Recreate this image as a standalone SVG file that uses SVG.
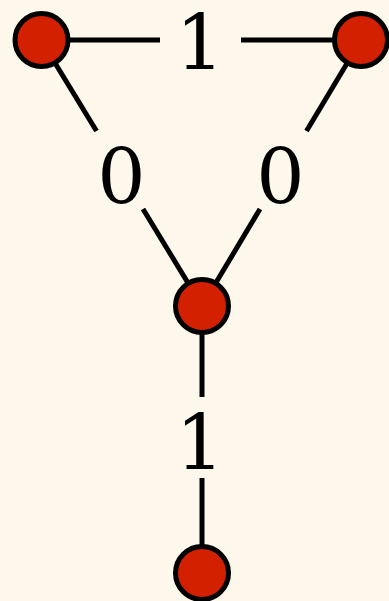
<svg xmlns="http://www.w3.org/2000/svg" width="389" height="601" viewBox="0 0 389 601">
<style>
.edge{stroke:#000;stroke-width:5;fill:none;stroke-linecap:butt}
.node{fill:#d22000;stroke:#000;stroke-width:5}
.lbl{font-family:"DejaVu Serif",serif;font-size:76px;fill:#000;text-anchor:middle}
</style>
<rect width="389" height="601" fill="#fef7eb"/>
<g id="connectors">
<line class="edge" x1="41" y1="40" x2="160" y2="40"/>
<line class="edge" x1="241" y1="40" x2="361" y2="40"/>
<line class="edge" x1="41" y1="40" x2="96.5" y2="131"/>
<line class="edge" x1="143" y1="209" x2="202" y2="306"/>
<line class="edge" x1="361" y1="40" x2="306.5" y2="131"/>
<line class="edge" x1="260" y1="209" x2="202" y2="306"/>
<line class="edge" x1="202" y1="306" x2="202" y2="397"/>
<line class="edge" x1="202" y1="478" x2="202" y2="573"/>
<text class="lbl" x="200" y="69">1</text>
<text class="lbl" x="121.5" y="203">0</text>
<text class="lbl" x="280.5" y="203">0</text>
<text class="lbl" x="200" y="469">1</text>
</g>
<g id="n1"><circle class="node" cx="41.5" cy="40" r="26.5"/></g>
<g id="n2"><circle class="node" cx="361" cy="40" r="26.5"/></g>
<g id="n3"><circle class="node" cx="202" cy="306" r="26.5"/></g>
<g id="n4"><circle class="node" cx="202" cy="573" r="26.5"/></g>
</svg>
